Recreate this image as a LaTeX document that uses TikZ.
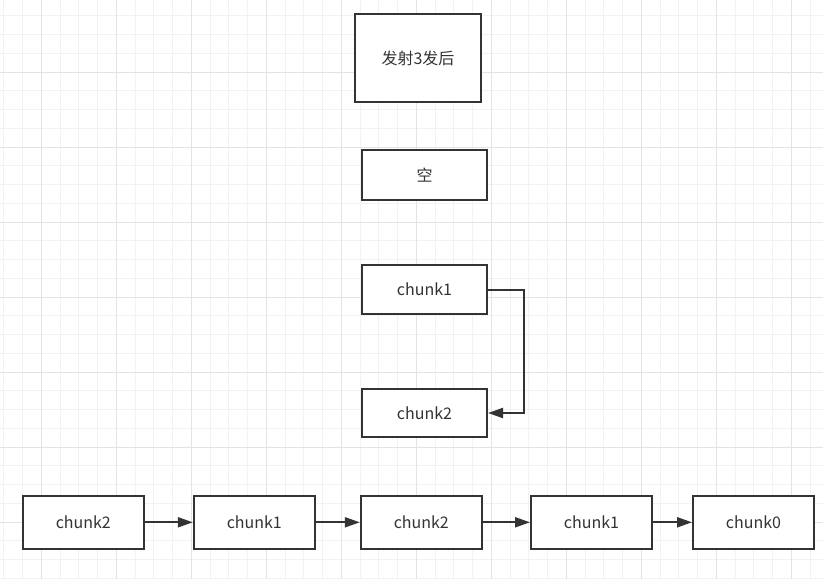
\documentclass[tikz,border=0pt]{standalone}
\usepackage{fontspec}
\setmainfont{Noto Sans CJK SC}
\usetikzlibrary{arrows.meta}
\definecolor{ink}{HTML}{333333}
\definecolor{gridminor}{HTML}{F2F2F2}
\definecolor{gridmajor}{HTML}{E3E3E3}
\tikzset{
  box/.style={draw=ink, line width=2pt, fill=white, rectangle, inner sep=0pt,
    minimum width=121pt, minimum height=53pt, text=ink, font=\fontsize{16pt}{18pt}\selectfont},
  link/.style={draw=ink, line width=2pt, -{Triangle[length=15pt,width=10pt]}},
}
\begin{document}
\begin{tikzpicture}[x=1pt,y=-1pt]
\useasboundingbox (0,0) rectangle (823,579);
\fill[white] (0,0) rectangle (823,579);
% grid
\foreach \i in {0,...,43} {
  \pgfmathsetmacro{\gx}{3.8+18.75*\i}
  \draw[gridminor, line width=1pt] (\gx,0) -- (\gx,579);
}
\foreach \i in {0,...,30} {
  \pgfmathsetmacro{\gy}{15.75+18.75*\i}
  \draw[gridminor, line width=1pt] (0,\gy) -- (823,\gy);
}
\foreach \i in {0,...,10} {
  \pgfmathsetmacro{\gx}{41.3+75*\i}
  \draw[gridmajor, line width=1pt] (\gx,0) -- (\gx,579);
}
\foreach \i in {0,...,7} {
  \pgfmathsetmacro{\gy}{72+75*\i}
  \draw[gridmajor, line width=1pt] (0,\gy) -- (823,\gy);
}
% nodes
\node[box, minimum width=126pt, minimum height=88pt] (top) at (418,58) {发射3发后};
\node[box, minimum width=125pt, minimum height=50pt] (empty) at (424.5,175) {空};
\node[box, minimum width=125pt, minimum height=49pt] (vc1) at (424.5,289.5) {chunk1};
\node[box, minimum width=125pt, minimum height=48pt] (vc2) at (424.5,413) {chunk2};
\node[box] (b1) at (83.3,522.3) {chunk2};
\node[box] (b2) at (254.3,522.3) {chunk1};
\node[box] (b3) at (421.3,522.3) {chunk2};
\node[box] (b4) at (591.5,522.3) {chunk1};
\node[box] (b5) at (753.5,522.3) {chunk0};
% connectors
\draw[link] (vc1.east) -- ([xshift=36pt]vc1.east) |- (vc2.east);
\draw[link] (b1) -- (b2);
\draw[link] (b2) -- (b3);
\draw[link] (b3) -- (b4);
\draw[link] (b4) -- (b5);
\end{tikzpicture}
\end{document}
